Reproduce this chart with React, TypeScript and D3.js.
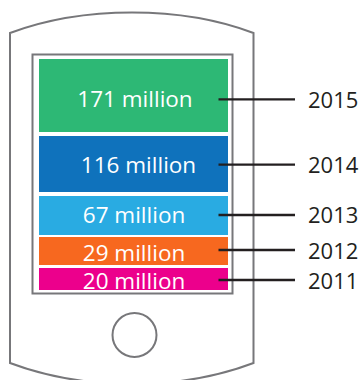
import React from "react";
import * as d3 from "d3";

const years = ["2015", "2014", "2013", "2012", "2011"];
const users = [171, 116, 67, 29, 20];
const fills = ["#2db875", "#0f72bc", "#29abe2", "#f7681f", "#ec008c"];
const gapsBelow = [4, 4, 2, 3, 0];

const font = "'Open Sans', sans-serif";
const shellGray = "#77777a";
const ink = "#231f20";

// Hand placement of the annotations around each band.
const leaderY = [99.3, 164.7, 215, 250, 280];
const valueBaseline = [106.5, 172.7, 222.7, 261, 288.7];
const valueCenter = [135, 138.5, 134, 134, 134];
const yearBaseline = [108, 173, 223, 259, 289];

// The bands are sized on a compressed, hand-tuned ramp rather than proportionally.
const bandHeight = d3.scaleLinear().domain([20, 29, 67, 116, 171]).range([22, 28, 39, 56, 73]);

function shellPath() {
  const p = d3.path();
  p.moveTo(10, 33);
  p.bezierCurveTo(50, 18, 92, 12.5, 132, 12.5);
  p.bezierCurveTo(172, 12.5, 214, 18, 253.5, 33);
  p.lineTo(253.5, 363);
  p.bezierCurveTo(214, 378, 172, 384, 132, 384);
  p.bezierCurveTo(92, 384, 50, 378, 10, 363);
  p.closePath();
  return p.toString();
}

export default function App() {
  let y = 59;
  const bands = users.map((v, i) => {
    const h = bandHeight(v);
    const band = { year: years[i], value: v, fill: fills[i], y, h, i };
    y += h + gapsBelow[i];
    return band;
  });
  const left = 39;
  const right = 228;

  return (
    <svg width={362} height={380} style={{ position: "absolute", left: 0, top: 0 }}>
      <path d={shellPath()} fill="none" stroke={shellGray} strokeWidth={2} />
      <rect x={32.5} y={54.5} width={200} height={239} fill="none" stroke={shellGray} strokeWidth={2} />
      <circle cx={134.5} cy={335} r={22} fill="none" stroke={shellGray} strokeWidth={2} />
      {bands.map((b) => (
        <rect key={b.year} x={left} y={b.y} width={right - left} height={b.h} fill={b.fill} />
      ))}
      {bands.map((b) => (
        <text
          key={b.year}
          x={valueCenter[b.i]}
          y={valueBaseline[b.i]}
          textAnchor="middle"
          fontFamily={font}
          fontSize={22.5}
          fill="#ffffff"
        >
          {`${b.value} million`}
        </text>
      ))}
      {bands.map((b) => (
        <g key={b.year}>
          <line x1={218.5} x2={295} y1={leaderY[b.i]} y2={leaderY[b.i]} stroke={ink} strokeWidth={2.3} />
          <text x={308} y={yearBaseline[b.i]} fontFamily={font} fontSize={22} fill={ink}>
            {b.year}
          </text>
        </g>
      ))}
    </svg>
  );
}
